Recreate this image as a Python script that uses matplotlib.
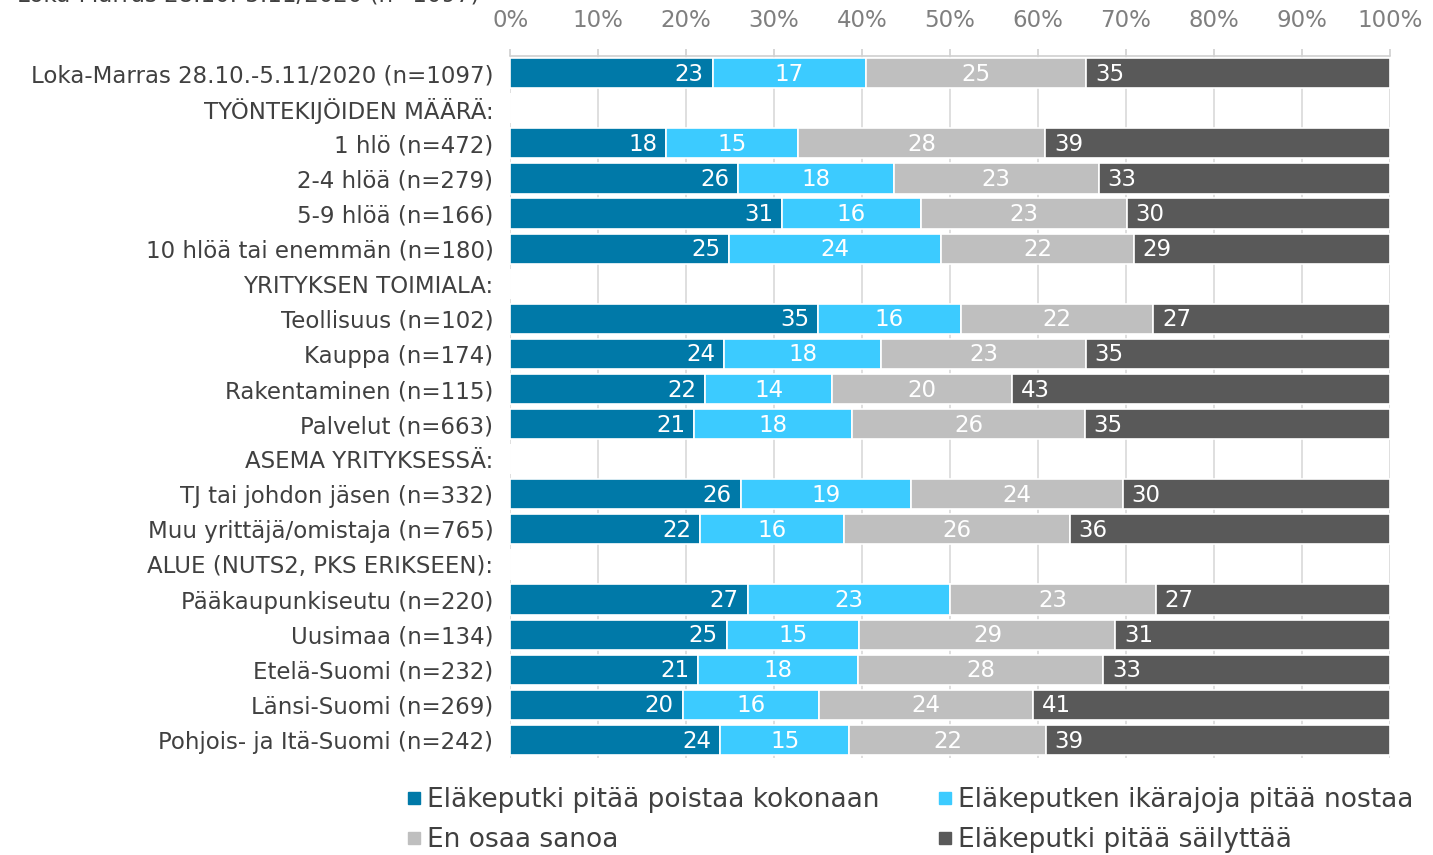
import numpy as np
import matplotlib
matplotlib.use('Agg')
import matplotlib.pyplot as plt
from matplotlib.lines import Line2D

# rows from top to bottom, header rows have no bars
categories = [
    'Loka-Marras 28.10.-5.11/2020 (n=1097)',
    'TYÖNTEKIJÖIDEN MÄÄRÄ:',
    '1 hlö (n=472)',
    '2-4 hlöä (n=279)',
    '5-9 hlöä (n=166)',
    '10 hlöä tai enemmän (n=180)',
    'YRITYKSEN TOIMIALA:',
    'Teollisuus (n=102)',
    'Kauppa (n=174)',
    'Rakentaminen (n=115)',
    'Palvelut (n=663)',
    'ASEMA YRITYKSESSÄ:',
    'TJ tai johdon jäsen (n=332)',
    'Muu yrittäjä/omistaja (n=765)',
    'ALUE (NUTS2, PKS ERIKSEEN):',
    'Pääkaupunkiseutu (n=220)',
    'Uusimaa (n=134)',
    'Etelä-Suomi (n=232)',
    'Länsi-Suomi (n=269)',
    'Pohjois- ja Itä-Suomi (n=242)',
]
poistaa = [23.0, None, 17.7, 25.9, 30.9, 24.9, None, 35.0, 24.3, 22.2, 20.9, None, 26.2, 21.6, None, 27.0, 24.6, 21.4, 19.6, 23.9]
nostaa = [17.4, None, 15.0, 17.7, 15.8, 24.1, None, 16.2, 17.9, 14.4, 18.0, None, 19.4, 16.4, None, 23.0, 15.1, 18.1, 15.5, 14.6]
en_osaa = [25.1, None, 28.1, 23.3, 23.4, 21.9, None, 21.9, 23.2, 20.4, 26.4, None, 24.0, 25.6, None, 23.4, 29.1, 27.9, 24.3, 22.4]
sailyttaa = [34.5, None, 39.2, 33.1, 29.9, 29.1, None, 26.9, 34.6, 43.0, 34.7, None, 30.4, 36.4, None, 26.6, 31.2, 32.6, 40.6, 39.1]

series = [
    ('Eläkeputki pitää poistaa kokonaan', poistaa, '#0079A8'),
    ('Eläkeputken ikärajoja pitää nostaa', nostaa, '#3CCBFF'),
    ('En osaa sanoa', en_osaa, '#BFBFBF'),
    ('Eläkeputki pitää säilyttää', sailyttaa, '#595959'),
]

plt.rcParams['font.family'] = ['DejaVu Sans']
fs = 16.5
fig = plt.figure(figsize=(14.33, 8.55), dpi=100)
ax = fig.add_axes([0.356, 0.114, 0.614, 0.821])

y = np.arange(len(categories))
left = np.zeros(len(categories))
for i, (name, vals, col) in enumerate(series):
    v = np.array([np.nan if x is None else x for x in vals])
    bars = ax.barh(y, np.nan_to_num(v), left=left, height=0.86, color=col,
                   edgecolor='white', linewidth=1.2, zorder=2)
    for j, b in enumerate(bars):
        if np.isnan(v[j]):
            continue
        lab = '%d' % int(v[j] + 0.5)
        if i == 0:
            ax.text(left[j] + v[j] - 1.0, y[j] + 0.03, lab, ha='right', va='center',
                    color='white', fontsize=fs)
        elif i == 3:
            ax.text(left[j] + 1.0, y[j] + 0.03, lab, ha='left', va='center',
                    color='white', fontsize=fs)
        else:
            ax.text(left[j] + v[j] / 2, y[j] + 0.03, lab, ha='center', va='center',
                    color='white', fontsize=fs)
    left = left + np.nan_to_num(v)

ax.set_xlim(0, 100)
ax.set_ylim(len(categories) - 0.5, -0.5)
ax.set_xticks(np.arange(0, 101, 10))
ax.set_xticklabels(['%d%%' % t for t in range(0, 101, 10)])
ax.xaxis.tick_top()
ax.tick_params(axis='x', colors='#D0D0D0', labelcolor='#7F7F7F', labelsize=fs,
               length=5, width=1.2, pad=12)
ax.set_yticks(y)
ax.set_yticklabels(categories)
ax.tick_params(axis='y', length=0, labelsize=fs, labelcolor='#404040', pad=12)
ax.grid(axis='x', color='#D9D9D9', linewidth=1.2, zorder=0)
ax.set_axisbelow(True)
for s in ['right', 'bottom', 'left']:
    ax.spines[s].set_visible(False)
ax.spines['top'].set_color('#D0D0D0')
ax.spines['top'].set_linewidth(1.2)

# legend fills column-wise, so reorder to get poistaa/nostaa on the first row
order = [0, 2, 1, 3]
handles = [Line2D([0], [0], marker='s', linestyle='none', markersize=9,
                  markerfacecolor=series[k][2], markeredgecolor=series[k][2]) for k in order]
labels = [series[k][0] for k in order]
fig.legend(handles, labels, ncol=2, loc='upper left', bbox_to_anchor=(0.272, 0.092),
           frameon=False, fontsize=19, labelcolor='#404040', handletextpad=0.0,
           columnspacing=2.0, labelspacing=0.55, handlelength=1.0, borderaxespad=0)

fig.text(0.012, 1.0 + 5 / 855, 'Loka-Marras 28.10.-5.11/2020 (n=1097)', ha='left',
         va='center', fontsize=fs, color='#404040')

fig.savefig('out.png', dpi=100)
